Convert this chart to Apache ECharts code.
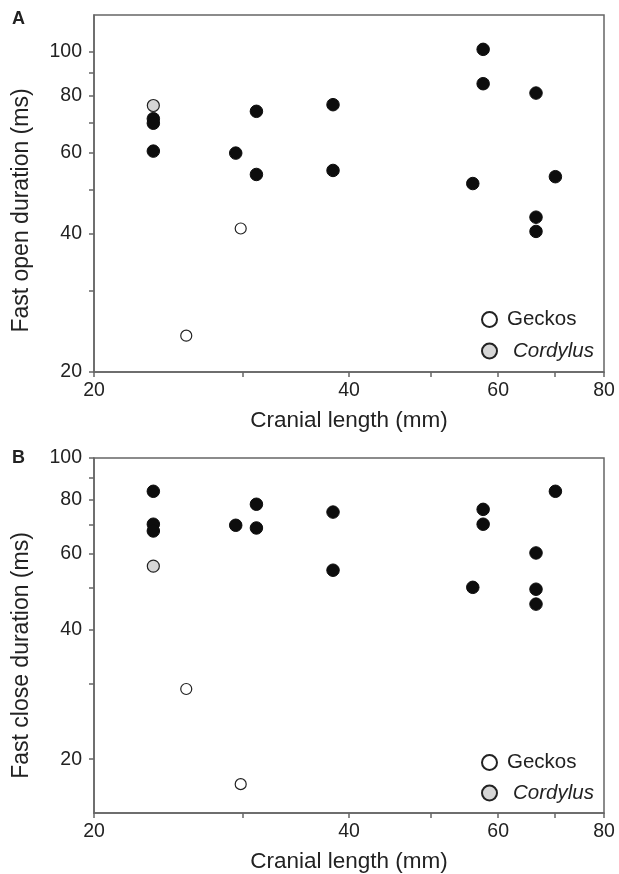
<!DOCTYPE html>
<html>
<head>
<meta charset="utf-8">
<script src="https://cdn.jsdelivr.net/npm/echarts@6/dist/echarts.min.js"></script>
<style>
  html, body { margin: 0; padding: 0; background: #fff; }
  #main { width: 619px; height: 874px; }
</style>
</head>
<body>
<div id="main"></div>
<script>
// cranial length (mm) vs fast open / fast close duration (ms)
const geckoX = [25.7, 29.8];
const cordylusX = [23.5];
const otherX = [23.5, 23.5, 23.5, 29.4, 31.1, 31.1, 38.3, 38.3, 56.0, 57.6, 57.6, 66.5, 66.5, 66.5, 70.1];

// panel A: fast open duration
const openGecko = [24.0, 41.1];
const openCordylus = [76.2];
const openOther = [71.3, 69.7, 60.6, 60.0, 74.0, 53.9, 76.5, 55.0, 51.5, 101, 85.0, 81.1, 43.5, 40.5, 53.3];

// panel B: fast close duration
const closeGecko = [29.1, 17.5];
const closeCordylus = [56.1];
const closeOther = [83.7, 70.2, 67.7, 69.8, 78.1, 68.8, 74.9, 54.9, 50.1, 76.0, 70.2, 60.2, 49.6, 45.8, 83.7];

const xLabels = [20, 40, 60, 80];
const xTicks = [20, 30, 40, 50, 60, 70, 80];
const yLabels = [20, 40, 60, 80, 100];
const yTicks = [20, 30, 40, 50, 60, 70, 80, 90, 100];

const FONT = '"Liberation Sans", Arial, sans-serif';
const AXIS_COLOR = '#666';
const TEXT_COLOR = '#222';

function zip(xs, ys) {
  return xs.map((x, i) => [x, ys[i]]);
}

function xAxisFor(gridIndex) {
  return {
    type: 'log',
    gridIndex: gridIndex,
    min: 20,
    max: 80,
    name: 'Cranial length (mm)',
    nameLocation: 'middle',
    nameGap: 37,
    nameTextStyle: { fontFamily: FONT, fontSize: 22.5, color: TEXT_COLOR },
    axisLine: { lineStyle: { color: AXIS_COLOR, width: 1.5 } },
    axisTick: { length: 5, customValues: xTicks, lineStyle: { color: AXIS_COLOR, width: 1.5 } },
    axisLabel: {
      customValues: xLabels,
      margin: 9,
      fontFamily: FONT, fontSize: 19.5, color: TEXT_COLOR,
      formatter: v => String(Math.round(v))
    },
    splitLine: { show: false }
  };
}

function yAxisFor(gridIndex, min, max, name, shift) {
  return {
    type: 'log',
    gridIndex: gridIndex,
    min: min,
    max: max,
    name: name,
    nameLocation: 'middle',
    nameGap: 61,
    // extra padding at the end of the rotated title pushes it down a bit
    nameTextStyle: { fontFamily: FONT, fontSize: 23, color: TEXT_COLOR, padding: [0, shift, 0, 0] },
    axisLine: { lineStyle: { color: AXIS_COLOR, width: 1.5 } },
    axisTick: { length: 5, customValues: yTicks, lineStyle: { color: AXIS_COLOR, width: 1.5 } },
    axisLabel: {
      customValues: yLabels,
      margin: 12,
      fontFamily: FONT, fontSize: 19.5, color: TEXT_COLOR,
      formatter: v => String(Math.round(v))
    },
    splitLine: { show: false }
  };
}

const geckoStyle = { color: '#fff', borderColor: '#222', borderWidth: 1.2, opacity: 1 };
const cordylusStyle = { color: '#d6d6d6', borderColor: '#222', borderWidth: 1.2, opacity: 1 };
const otherStyle = { color: '#0d0d0d', borderColor: '#0d0d0d', borderWidth: 1, opacity: 1 };

function panelSeries(idx, gecko, cordylus, other) {
  return [
    {
      name: 'Other', type: 'scatter', xAxisIndex: idx, yAxisIndex: idx,
      symbolSize: 12.5, itemStyle: otherStyle, data: zip(otherX, other)
    },
    {
      name: 'Cordylus', type: 'scatter', xAxisIndex: idx, yAxisIndex: idx,
      symbolSize: 12, itemStyle: cordylusStyle, data: zip(cordylusX, cordylus)
    },
    {
      name: 'Geckos', type: 'scatter', xAxisIndex: idx, yAxisIndex: idx,
      symbolSize: 11, itemStyle: geckoStyle, data: zip(geckoX, gecko)
    }
  ];
}

function legendAt(top, gap) {
  return {
    orient: 'vertical',
    left: 476,
    top: top,
    itemGap: gap,
    itemWidth: 15,
    itemHeight: 15,
    icon: 'circle',
    selectedMode: false,
    textStyle: { fontFamily: FONT, fontSize: 20.5, color: TEXT_COLOR },
    data: [
      { name: 'Geckos', textStyle: { padding: [0, 0, 0, 5] } },
      { name: 'Cordylus', textStyle: { fontStyle: 'italic', padding: [0, 0, 0, 11] } }
    ]
  };
}

const chart = echarts.init(document.getElementById('main'), null, { renderer: 'canvas' });

chart.setOption({
  animation: false,
  backgroundColor: '#fff',
  grid: [
    { left: 94, right: 15, top: 15, height: 357, show: true, borderColor: AXIS_COLOR, borderWidth: 1.5 },
    { left: 94, right: 15, top: 458, height: 356, show: true, borderColor: AXIS_COLOR, borderWidth: 1.5 }
  ],
  xAxis: [xAxisFor(0), xAxisFor(1)],
  yAxis: [
    yAxisFor(0, 20, 120, 'Fast open duration (ms)', 34),
    yAxisFor(1, 15, 100, 'Fast close duration (ms)', 40)
  ],
  legend: [legendAt(304, 11), legendAt(747, 10)],
  graphic: [
    { type: 'text', left: 12, top: 10, style: { text: 'A', font: 'bold 18px ' + FONT, fill: TEXT_COLOR } },
    { type: 'text', left: 12, top: 449, style: { text: 'B', font: 'bold 18px ' + FONT, fill: TEXT_COLOR } }
  ],
  series: [].concat(
    panelSeries(0, openGecko, openCordylus, openOther),
    panelSeries(1, closeGecko, closeCordylus, closeOther)
  )
});
</script>
</body>
</html>
